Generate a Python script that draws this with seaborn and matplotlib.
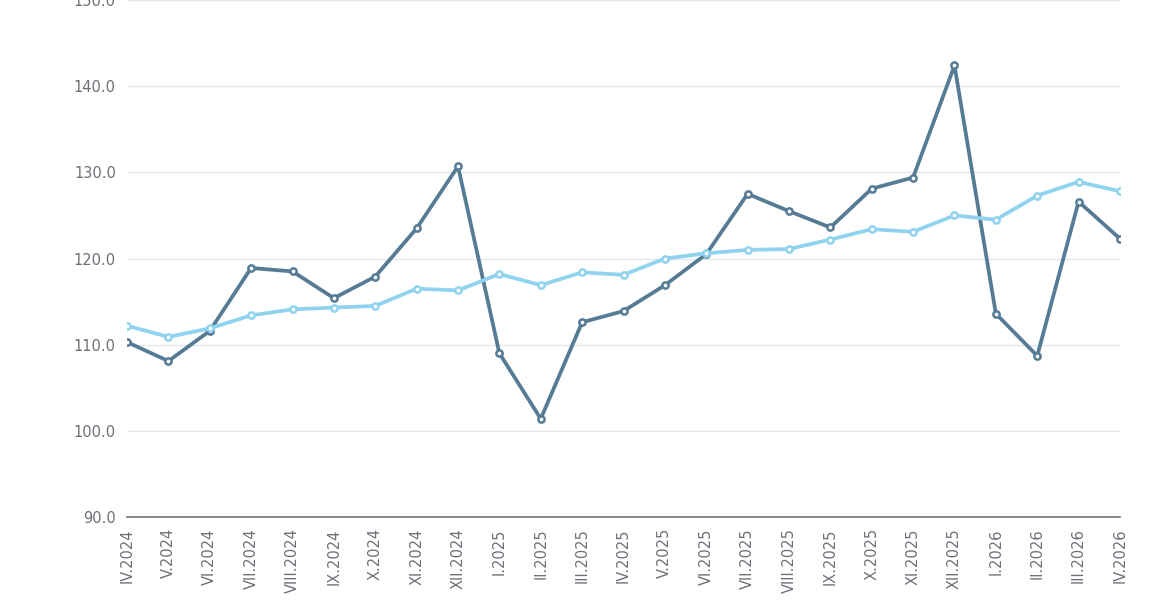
import pandas as pd
import matplotlib.pyplot as plt
import seaborn as sns

# month labels (roman numeral month . year)
months = ['IV.2024', 'V.2024', 'VI.2024', 'VII.2024', 'VIII.2024', 'IX.2024', 'X.2024',
          'XI.2024', 'XII.2024', 'I.2025', 'II.2025', 'III.2025', 'IV.2025', 'V.2025',
          'VI.2025', 'VII.2025', 'VIII.2025', 'IX.2025', 'X.2025', 'XI.2025', 'XII.2025',
          'I.2026', 'II.2026', 'III.2026', 'IV.2026']

# series values
monthly = [110.3, 108.1, 111.6, 118.9, 118.5, 115.4, 117.9, 123.5, 130.7, 109.0,
           101.4, 112.6, 113.9, 116.9, 120.5, 127.5, 125.5, 123.6, 128.1, 129.4,
           142.4, 113.6, 108.7, 126.6, 122.3]
trend = [112.2, 110.9, 111.9, 113.4, 114.1, 114.3, 114.5, 116.5, 116.3, 118.2,
         116.9, 118.4, 118.1, 120.0, 120.6, 121.0, 121.1, 122.2, 123.4, 123.1,
         125.0, 124.5, 127.3, 128.9, 127.8]

y_ticks = [90, 100, 110, 120, 130, 140, 150]

df = pd.DataFrame({
    'month': months * 2,
    'pos': list(range(len(months))) * 2,
    'value': monthly + trend,
    'series': ['monthly'] * len(months) + ['trend'] * len(months),
})

sns.set_style('white')
plt.rcParams['font.family'] = ['DejaVu Sans']

fig = plt.figure(figsize=(11.72, 6), dpi=100)
ax = fig.add_axes([0.1084, 0.1383, 0.8472, 0.8617])

palette = {'monthly': '#557b95', 'trend': '#8fd3ef'}
sns.lineplot(data=df, x='pos', y='value', hue='series', palette=palette, sort=False,
             linewidth=2.7, marker='o', markersize=4.5, markerfacecolor='white',
             markeredgewidth=1.8, legend=False, ax=ax, zorder=3)
# paint marker edges in line colour
for line in ax.get_lines():
    line.set_markeredgecolor(line.get_color())

ax.set_xlim(0, len(months) - 1)
ax.set_ylim(90, 150)
ax.set_yticks(y_ticks)
ax.set_yticklabels([f'{t:.1f}' for t in y_ticks])
ax.set_xticks(range(len(months)))
ax.set_xticklabels(months, rotation=90)
ax.set_xlabel('')
ax.set_ylabel('')

for t in y_ticks[1:]:
    ax.axhline(t, color='#e3e8f0', linewidth=1, zorder=1)

for side in ['top', 'right', 'left']:
    ax.spines[side].set_visible(False)
ax.spines['bottom'].set_color('#6e7079')
ax.spines['bottom'].set_linewidth(1.2)
ax.tick_params(axis='x', colors='#6e7079', labelcolor='#6e7079', length=5, width=1.2,
               labelsize=10.5, pad=3)
ax.tick_params(axis='y', length=0, labelcolor='#6e7079', labelsize=10.5, pad=8)
ax.set_clip_on(False)

fig.savefig('out.png', dpi=100)
